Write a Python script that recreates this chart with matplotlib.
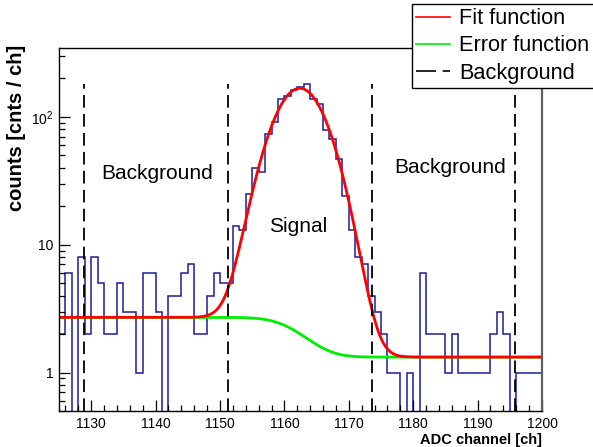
import math
import numpy as np
import matplotlib
matplotlib.use('Agg')
import matplotlib.pyplot as plt
from matplotlib.lines import Line2D
from matplotlib.ticker import FixedLocator, NullFormatter

plt.rcParams['font.family'] = ['Liberation Sans', 'DejaVu Sans']
plt.rcParams['mathtext.fontset'] = 'custom'
plt.rcParams['mathtext.rm'] = 'Liberation Sans'

# histogram: one bin per ADC channel, 1125 .. 1199
first_channel = 1125
counts = [2, 6, 0, 8, 2, 8, 5, 2, 2, 5, 3, 3, 1, 6, 6, 3, 0, 4, 4, 6, 7, 2, 2, 4, 6, 5,
          5, 14, 13, 25, 40, 37, 73, 91, 138, 146, 161, 171, 181, 137, 126, 79, 67, 47,
          24, 13, 8, 7, 4, 3, 2,
          1, 1, 0, 1, 0, 6, 2, 2, 2, 1, 2, 1, 1, 1, 1, 1, 2, 3, 2, 0, 1, 1, 1, 1]

# fit parameters (gauss + erf step background)
amp = 165.0
mu = 1162.4
sigma = 3.72
bkg_left = 2.7
bkg_right = 1.32

x_range = [1125, 1200]
y_range = [0.5, 345]

counts = np.array(counts, dtype=float)
edges = first_channel + np.arange(len(counts) + 1)


def step_bkg(x):
    return bkg_right + (bkg_left - bkg_right) * 0.5 * np.array(
        [math.erfc((v - mu) / (math.sqrt(2) * sigma)) for v in x])


def fit_func(x):
    return amp * np.exp(-(x - mu) ** 2 / (2 * sigma ** 2)) + step_bkg(x)


fig = plt.figure(figsize=(5.93, 4.47), dpi=100)
ax = fig.add_axes([0.0995, 0.0805, 0.8145, 0.8121])

# zero bins drawn below the axis so the outline drops to the bottom
plot_counts = np.where(counts > 0, counts, 1e-3)
ax.stairs(plot_counts, edges, baseline=None, color='#1c1c9c', lw=1.1)

xs = np.linspace(x_range[0], x_range[1], 600)
ax.plot(xs, step_bkg(xs), color='#00ee00', lw=2)
ax.plot(xs, fit_func(xs), color='#ff0000', lw=2)

bounds = [mu - 9 * sigma, mu - 3 * sigma, mu + 3 * sigma, mu + 9 * sigma]
ax.vlines(bounds, y_range[0], counts.max(), colors='black', lw=1.3,
          linestyles=(0, (7, 3.5)))

ax.set_yscale('log')
ax.set_xlim(x_range)
ax.set_ylim(y_range)

ax.text(1140.2, 36, 'Background', ha='center', va='center', fontsize=15)
ax.text(1162.2, 13.8, 'Signal', ha='center', va='center', fontsize=15)
ax.text(1185.7, 40, 'Background', ha='center', va='center', fontsize=15)

ax.xaxis.set_major_locator(FixedLocator(np.arange(1130, 1201, 10)))
ax.xaxis.set_minor_locator(FixedLocator(np.arange(1126, 1200, 2)))
ax.yaxis.set_major_locator(FixedLocator([1, 10, 100]))
ax.yaxis.set_minor_locator(FixedLocator([v * d for d in [0.1, 1, 10, 100] for v in range(2, 10)]))
ax.yaxis.set_minor_formatter(NullFormatter())
ax.set_yticklabels(['1', '10', r'$10^{2}$'])
ax.tick_params(which='both', direction='in', top=False, right=False, labelsize=10)
ax.tick_params(which='major', length=8, width=0.9)
ax.tick_params(which='minor', length=4.5, width=0.9)
ax.tick_params(axis='x', pad=4)
ax.tick_params(axis='y', pad=4)

for s in ax.spines.values():
    s.set_linewidth(1.0)
ax.spines['right'].set_color('#606060')
ax.spines['right'].set_linewidth(1.6)

ax.set_xlabel('ADC channel [ch]', fontsize=10.5, fontweight='bold', ha='right')
ax.xaxis.set_label_coords(1.0, -0.08)
ax.xaxis.label.set_va('center')
ax.set_ylabel('counts [cnts / ch]', fontsize=14.5, fontweight='bold', ha='right')
ax.yaxis.set_label_coords(-0.088, 1.01)
ax.yaxis.label.set_va('center')

handles = [Line2D([], [], color='#ff0000', lw=1.2),
           Line2D([], [], color='#00ee00', lw=1.2),
           Line2D([], [], color='black', lw=1.2, dashes=(12, 4, 5, 40))]
labels = ['Fit function', 'Error function', 'Background']
leg = fig.legend(handles, labels, loc='upper left', bbox_to_anchor=(0.6945, 0.991),
                 borderaxespad=0, fontsize=15.7, frameon=True, fancybox=False,
                 edgecolor='black', framealpha=1, handlelength=1.55,
                 handletextpad=0.42, borderpad=0.2, labelspacing=0.28)
leg.get_frame().set_linewidth(1.0)

fig.savefig('out.png', dpi=100)
